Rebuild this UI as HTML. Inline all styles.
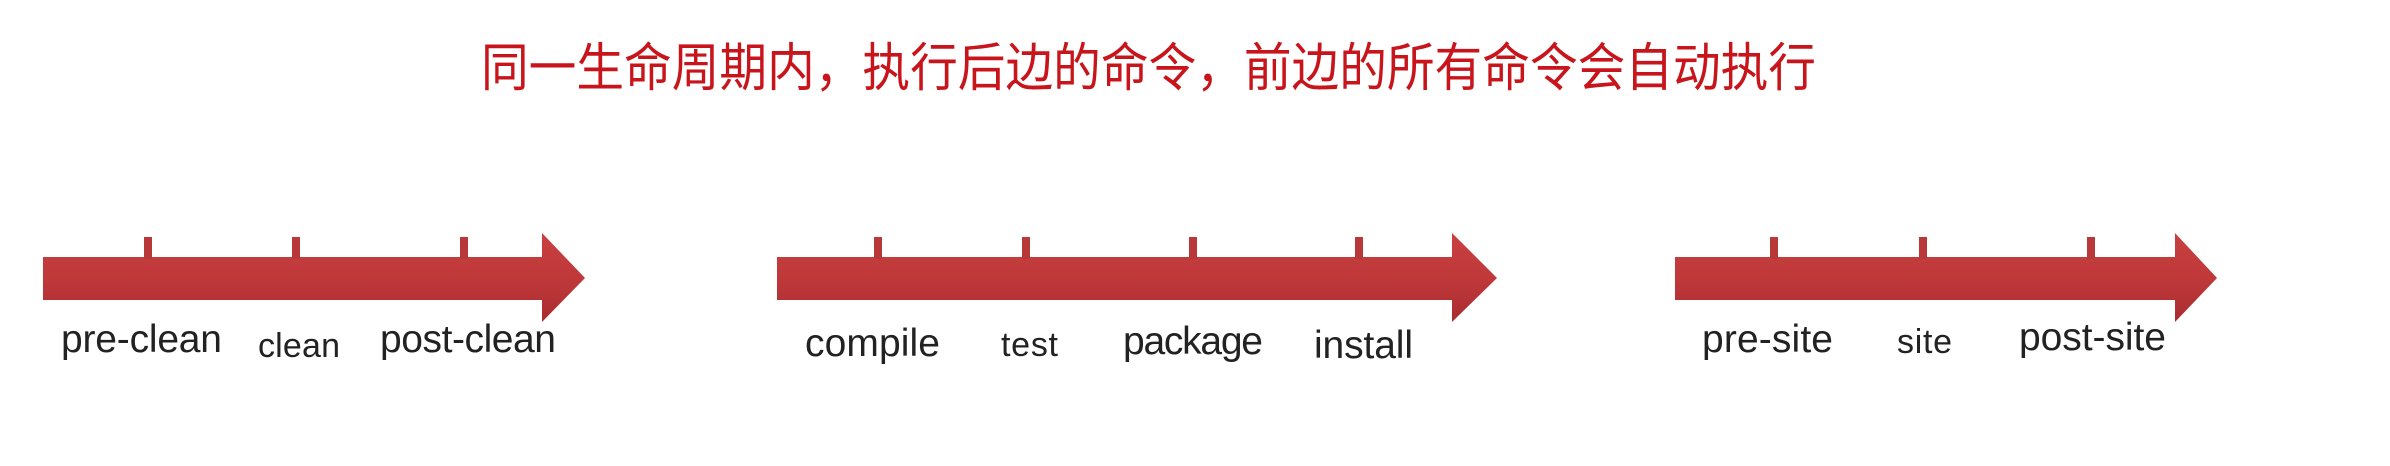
<!DOCTYPE html>
<html><head><meta charset="utf-8"><style>
html,body{margin:0;padding:0;background:#fff;}
svg{display:block;}
</style></head><body>
<svg width="2390" height="466" viewBox="0 0 2390 466" xmlns="http://www.w3.org/2000/svg">
<defs>
<linearGradient id="g" x1="0" y1="0" x2="0" y2="1">
<stop offset="0" stop-color="#c84040"/>
<stop offset="0.5" stop-color="#c0393a"/>
<stop offset="1" stop-color="#a92c30"/>
</linearGradient>
</defs>
<text x="481" y="86" font-family="Liberation Sans, Noto Sans CJK SC, sans-serif" font-size="52" fill="#c8151b" textLength="1335" lengthAdjust="spacingAndGlyphs">同一生命周期内，执行后边的命令，前边的所有命令会自动执行</text>

<g fill="url(#g)">
<path d="M43 257 H542 V233 L585 278 L542 322 V300 H43 Z"/>
<path d="M777 257 H1452 V233 L1497 278 L1452 322 V300 H777 Z"/>
<path d="M1675 257 H2175 V233 L2217 278 L2175 322 V300 H1675 Z"/>
</g>
<g fill="#b8383a">
<rect x="144" y="237" width="8" height="22"/>
<rect x="292" y="237" width="8" height="22"/>
<rect x="460" y="237" width="8" height="22"/>
<rect x="874" y="237" width="8" height="22"/>
<rect x="1022" y="237" width="8" height="22"/>
<rect x="1189" y="237" width="8" height="22"/>
<rect x="1355" y="237" width="8" height="22"/>
<rect x="1770" y="237" width="8" height="22"/>
<rect x="1919" y="237" width="8" height="22"/>
<rect x="2087" y="237" width="8" height="22"/>
</g>
<g font-family="Liberation Sans, sans-serif" font-size="39" fill="#222" lengthAdjust="spacingAndGlyphs">
<text x="61" y="352" textLength="161">pre-clean</text>
<text x="258" y="357" textLength="82" font-size="34">clean</text>
<text x="380" y="352" textLength="176">post-clean</text>
<text x="805" y="356" textLength="135">compile</text>
<text x="1001" y="356" textLength="57" font-size="34">test</text>
<text x="1123" y="354" textLength="140">package</text>
<text x="1314" y="358" textLength="99">install</text>
<text x="1702" y="352" textLength="131">pre-site</text>
<text x="1897" y="353" textLength="55" font-size="34">site</text>
<text x="2019" y="350" textLength="147">post-site</text>
</g>
</svg>
</body></html>
